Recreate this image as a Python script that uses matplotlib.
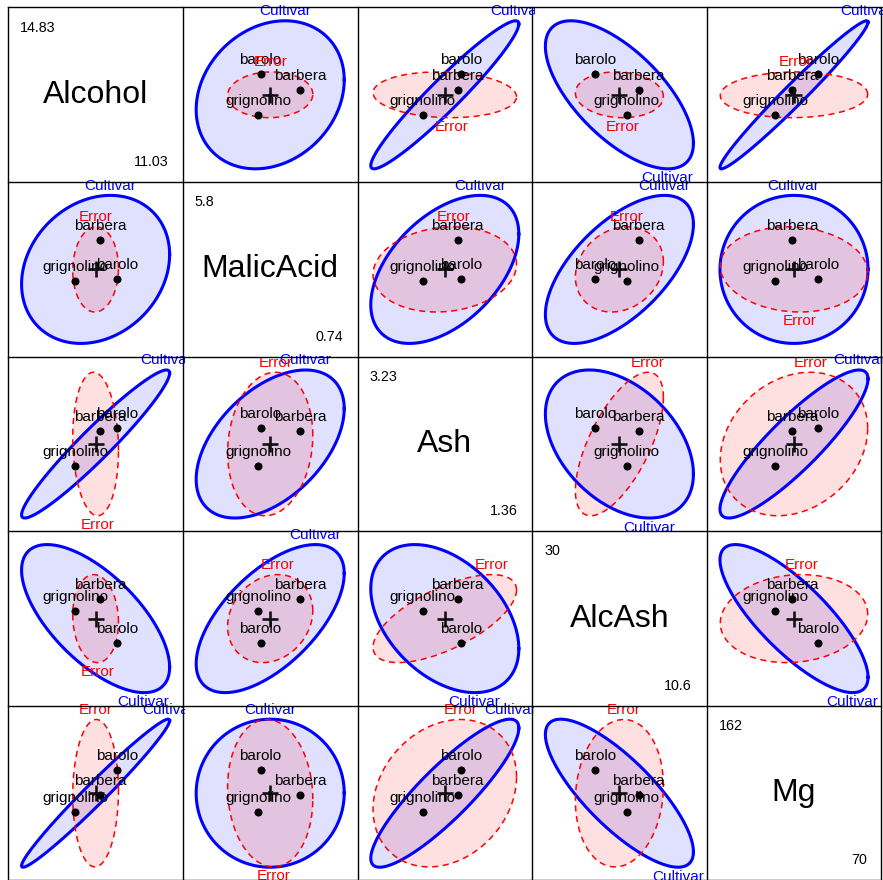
import numpy as np
import matplotlib
matplotlib.use("Agg")
import matplotlib.pyplot as plt
from matplotlib.transforms import Bbox
from matplotlib.lines import Line2D

# --- data -------------------------------------------------------------
variables = ["Alcohol", "MalicAcid", "Ash", "AlcAsh", "Mg"]
cultivars = ["barolo", "grignolino", "barbera"]
group_sizes = [59, 71, 48]

# cultivar means for each response
mean_alcohol = [13.745, 12.279, 13.153]
mean_malic = [2.010, 1.933, 3.334]
mean_ash = [2.456, 2.245, 2.437]
mean_alcash = [17.04, 20.24, 21.42]
mean_mg = [106.34, 94.55, 99.31]

# observed data range, printed on the diagonal
var_min = ["11.03", "0.74", "1.36", "10.6", "70"]
var_max = ["14.83", "5.8", "3.23", "30", "162"]

# pooled within-cultivar standard deviations and correlations (Error)
within_sd = [0.53, 0.95, 0.262, 2.9, 13.6]
within_cor = [
    [1.00, 0.03, -0.09, -0.08, 0.03],
    [0.03, 1.00, 0.12, 0.18, -0.08],
    [-0.09, 0.12, 1.00, 0.65, 0.22],
    [-0.08, 0.18, 0.65, 1.00, 0.10],
    [0.03, -0.08, 0.22, 0.10, 1.00],
]

# --- HE matrices ------------------------------------------------------
means = np.column_stack([mean_alcohol, mean_malic, mean_ash, mean_alcash, mean_mg])
n = np.array(group_sizes, dtype=float)
grand = n @ means / n.sum()
dev = means - grand
dfe = n.sum() - len(n)
H = (dev.T * n) @ dev / dfe
sd = np.array(within_sd)
E = np.outer(sd, sd) * np.array(within_cor)

radius = np.sqrt(-2 * np.log(1 - 0.68))   # 68% ellipse
h_scale = 7.27                            # evidence scaling for the hypothesis
fill_frac = 0.848

half = radius * np.maximum(np.sqrt(h_scale * np.diag(H)), np.sqrt(np.diag(E))) / fill_frac
lims = np.column_stack([grand - half, grand + half])

# --- layout -----------------------------------------------------------
plt.rcParams["font.family"] = ["Liberation Sans", "DejaVu Sans"]
W, HT = 883, 880
fig = plt.figure(figsize=(W / 100, HT / 100), dpi=100)
fig.patch.set_facecolor("white")
x0p, y0p, cell = 8.3, 7.5, 174.6
nv = len(variables)

blue, red = "#0000FF", "#FF0000"


def ellipse_pts(center, cov, r, k=240):
    t = np.linspace(0, 2 * np.pi, k)
    L = np.linalg.cholesky(cov)
    return center + r * (L @ np.vstack([np.cos(t), np.sin(t)])).T


def clipped_text(ax, box, x, y, s, dx=0, dy=0, **kw):
    t = ax.annotate(s, (x, y), xytext=(dx, dy), textcoords="offset pixels",
                    annotation_clip=False, **kw)
    t.set_clip_path(None)
    t.set_clip_box(box)
    t.set_clip_on(True)
    return t


def label_ellipse(ax, box, pts, cov, text, color):
    r = cov[0, 1] / np.sqrt(cov[0, 0] * cov[1, 1])
    if r > 0:
        k = np.argmax(pts[:, 1])
        dy = 9.5
    else:
        k = np.argmin(pts[:, 1])
        dy = -9.5
    clipped_text(ax, box, pts[k, 0], pts[k, 1], text, dy=dy, ha="center",
                 va="center", fontsize=11, color=color)


for i in range(nv):
    for j in range(nv):
        left = x0p + j * cell
        top = y0p + i * cell
        ax = fig.add_axes([left / W, 1 - (top + cell) / HT, cell / W, cell / HT])
        ax.set_facecolor("none")
        ax.set_xticks([])
        ax.set_yticks([])
        for s in ax.spines.values():
            s.set_visible(False)
        e = 2.5
        box = Bbox.from_extents(left - e, HT - top - cell - e, left + cell + e, HT - top + e)

        if i == j:
            ax.set_xlim(0, 1)
            ax.set_ylim(0, 1)
            ax.text(0.5, 0.5, variables[i], ha="center", va="center", fontsize=23,
                    transform=ax.transAxes)
            ax.text(12 / cell, 1 - 20 / cell, var_max[i], ha="left", va="center",
                    fontsize=10.3, transform=ax.transAxes)
            ax.text(1 - 14.6 / cell, 20 / cell, var_min[i], ha="right", va="center",
                    fontsize=10.3, transform=ax.transAxes)
            continue

        idx = [j, i]
        ax.set_xlim(*lims[j])
        ax.set_ylim(*lims[i])
        cen = grand[idx]
        Hs = h_scale * H[np.ix_(idx, idx)]
        Es = E[np.ix_(idx, idx)]
        hp = ellipse_pts(cen, Hs, radius)
        ep = ellipse_pts(cen, Es, radius)

        ax.fill(hp[:, 0], hp[:, 1], color=blue, alpha=0.12, lw=0)
        ax.fill(ep[:, 0], ep[:, 1], color=red, alpha=0.12, lw=0)
        ax.plot(hp[:, 0], hp[:, 1], color=blue, lw=2.2, solid_joinstyle="round")
        ax.plot(ep[:, 0], ep[:, 1], color=red, lw=1.1, dashes=(4, 3))

        ax.plot(means[:, j], means[:, i], "o", color="black", ms=5.8, mew=0)
        ax.plot(cen[0], cen[1], marker="+", color="#111111", ms=12, mew=1.9)
        for g, name in enumerate(cultivars):
            clipped_text(ax, box, means[g, j], means[g, i], name, dy=14,
                         ha="center", va="center", fontsize=11, color="black")

        label_ellipse(ax, box, hp, Hs, "Cultivar", blue)
        label_ellipse(ax, box, ep, Es, "Error", red)

# panel frame
for k in range(nv + 1):
    xp = (x0p + k * cell) / W
    yp = 1 - (y0p + k * cell) / HT
    fig.add_artist(Line2D([xp, xp], [1 - y0p / HT, 1 - (y0p + nv * cell) / HT],
                          color="black", lw=1.0, transform=fig.transFigure))
    fig.add_artist(Line2D([x0p / W, (x0p + nv * cell) / W], [yp, yp],
                          color="black", lw=1.0, transform=fig.transFigure))

fig.savefig("out.png", dpi=100, facecolor="white")
